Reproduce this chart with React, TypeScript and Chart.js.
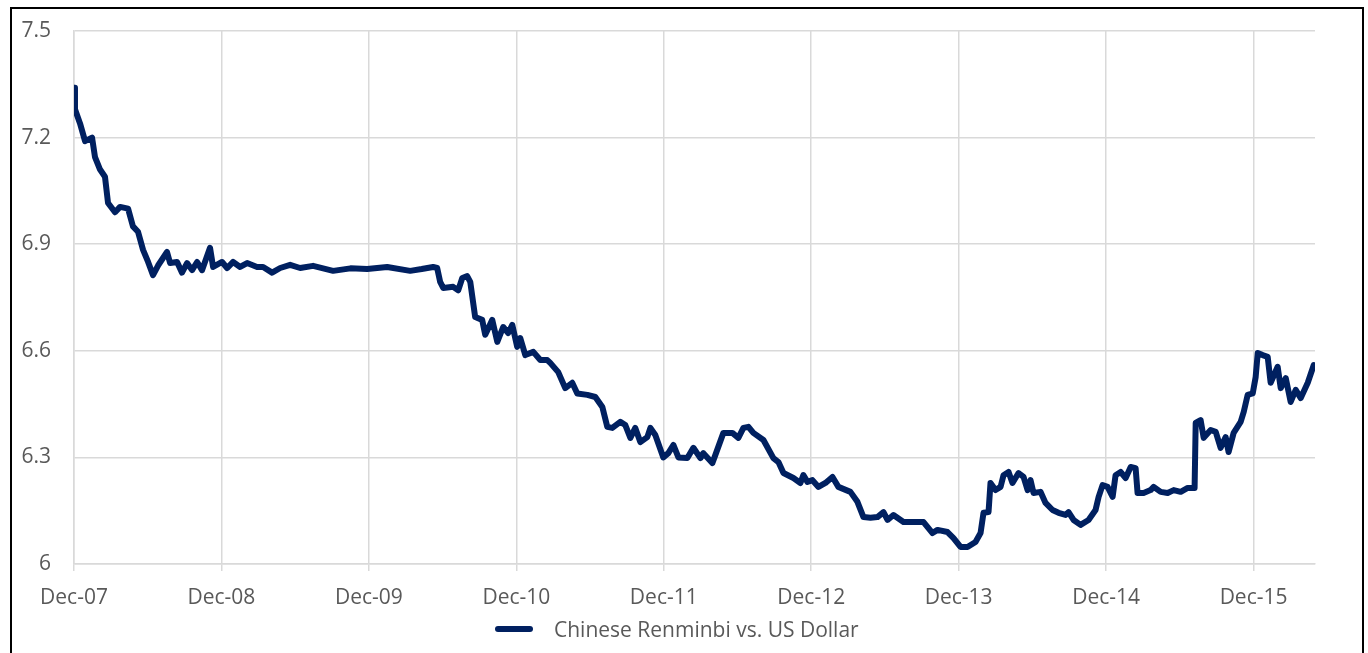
import React, { useEffect, useRef } from "react";
import { Chart, registerables } from "chart.js";

Chart.register(...registerables);

// Months elapsed since Dec-2007
const months: number[] = [
  0, 0.08, 0.49, 0.9, 1.47, 1.71, 2.12, 2.52, 2.77, 3.34, 3.75, 4.4, 4.8, 5.21, 5.62, 6.03, 6.43, 6.84,
  7.57, 7.82, 8.39, 8.79, 9.2, 9.61, 10.02, 10.42, 11.07, 11.32, 12.05, 12.46, 12.95, 13.52, 14.09,
  14.9, 15.39, 16.12, 16.78, 17.59, 18.4, 19.46, 21.09, 22.5, 23.86, 25.49, 27.36, 28.3, 29.23, 29.56,
  29.8, 30.05, 30.86, 31.27, 31.6, 32.0, 32.25, 32.65, 33.22, 33.47, 34.04, 34.45, 34.93, 35.34, 35.67,
  36.07, 36.32, 36.73, 37.38, 37.95, 38.52, 38.76, 39.41, 39.98, 40.55, 40.96, 41.78, 42.43, 43.0,
  43.4, 43.81, 44.46, 44.87, 45.28, 45.68, 46.09, 46.66, 46.91, 47.31, 47.96, 48.37, 48.78, 49.19,
  49.92, 50.41, 50.98, 51.22, 51.95, 52.2, 52.85, 53.58, 54.07, 54.48, 54.89, 55.29, 56.11, 56.92,
  57.33, 57.74, 58.55, 59.12, 59.36, 59.69, 60.1, 60.59, 61.16, 61.73, 62.21, 63.19, 63.76, 64.25,
  64.82, 65.39, 65.88, 66.21, 66.69, 67.51, 68.32, 69.14, 69.87, 70.28, 71.09, 71.58, 72.15, 72.72,
  73.37, 73.78, 74.02, 74.43, 74.59, 75.0, 75.41, 75.65, 76.06, 76.38, 76.87, 77.28, 77.61, 77.85,
  78.09, 78.66, 79.07, 79.64, 80.13, 80.7, 80.94, 81.35, 81.92, 82.57, 83.14, 83.39, 83.71, 84.12,
  84.53, 84.77, 85.18, 85.59, 86.0, 86.4, 86.56, 87.05, 87.62, 87.87, 88.44, 89.01, 89.5, 90.07,
  90.64, 91.2, 91.29, 91.69, 91.94, 92.51, 92.92, 93.32, 93.73, 93.97, 94.38, 94.95, 95.2, 95.52,
  95.93, 96.17, 96.34, 96.74, 97.15, 97.39, 97.96, 98.21, 98.62, 99.02, 99.43, 99.84, 100.41, 100.9,
];

// CNY per USD
const rates: number[] = [
  7.34, 7.28, 7.24, 7.19, 7.2, 7.145, 7.11, 7.09, 7.016, 6.99, 7.005, 7.0, 6.95, 6.935, 6.884, 6.85, 6.813, 6.84,
  6.878, 6.847, 6.85, 6.82, 6.847, 6.827, 6.85, 6.827, 6.89, 6.836, 6.85, 6.833, 6.85, 6.836, 6.847,
  6.836, 6.836, 6.82, 6.833, 6.842, 6.833, 6.839, 6.825, 6.832, 6.83, 6.836, 6.825, 6.83, 6.836, 6.833,
  6.794, 6.777, 6.78, 6.77, 6.805, 6.81, 6.794, 6.695, 6.687, 6.645, 6.687, 6.625, 6.667, 6.65, 6.673,
  6.611, 6.636, 6.588, 6.597, 6.574, 6.574, 6.566, 6.54, 6.495, 6.51, 6.48, 6.476, 6.47, 6.442,
  6.386, 6.383, 6.4, 6.391, 6.355, 6.383, 6.343, 6.357, 6.383, 6.363, 6.3, 6.312, 6.335, 6.3,
  6.298, 6.327, 6.298, 6.312, 6.284, 6.307, 6.369, 6.369, 6.355, 6.383, 6.386, 6.369, 6.349, 6.298,
  6.287, 6.256, 6.242, 6.228, 6.25, 6.231, 6.236, 6.217, 6.228, 6.245, 6.217, 6.203, 6.175, 6.132,
  6.13, 6.132, 6.146, 6.124, 6.138, 6.118, 6.118, 6.118, 6.087, 6.096, 6.09, 6.073, 6.048, 6.048,
  6.062, 6.087, 6.144, 6.146, 6.228, 6.208, 6.217, 6.25, 6.259, 6.228, 6.256, 6.245, 6.208, 6.236,
  6.2, 6.203, 6.172, 6.152, 6.144, 6.138, 6.146, 6.124, 6.11, 6.124, 6.152, 6.189, 6.222, 6.217,
  6.189, 6.25, 6.259, 6.242, 6.273, 6.27, 6.2, 6.2, 6.208, 6.217, 6.203, 6.2, 6.208, 6.203,
  6.214, 6.214, 6.397, 6.405, 6.355, 6.377, 6.372, 6.327, 6.357, 6.315, 6.369, 6.4, 6.428, 6.476,
  6.48, 6.526, 6.594, 6.588, 6.583, 6.51, 6.555, 6.495, 6.523, 6.456, 6.49, 6.467, 6.51, 6.56,
];

const xTickMonths: number[] = [0, 12, 24, 36, 48, 60, 72, 84, 96];
const xTickLabels: string[] = ["Dec-07", "Dec-08", "Dec-09", "Dec-10", "Dec-11", "Dec-12", "Dec-13", "Dec-14", "Dec-15"];
const yTickValues: number[] = [6, 6.3, 6.6, 6.9, 7.2, 7.5];
const yTickLabels: string[] = ["6", "6.3", "6.6", "6.9", "7.2", "7.5"];
const seriesLabel = "Chinese Renminbi vs. US Dollar";

const LINE = "#002060";
const GRID = "#d9d9d9";
const TEXT = "#595959";
const FONT = "'Open Sans', sans-serif";

export default function App() {
  const ref = useRef<HTMLCanvasElement | null>(null);

  useEffect(() => {
    if (!ref.current) return;
    const chart = new Chart(ref.current, {
      type: "line",
      data: {
        datasets: [
          {
            label: seriesLabel,
            data: months.map((m, i) => ({ x: m, y: rates[i] })),
            borderColor: LINE,
            backgroundColor: LINE,
            borderWidth: 6,
            pointRadius: 0,
            tension: 0,
            borderJoinStyle: "round",
            borderCapStyle: "round",
          },
        ],
      },
      options: {
        responsive: false,
        animation: false,
        layout: { padding: { left: 0, right: 53, top: 31, bottom: 0 } },
        plugins: { legend: { display: false }, tooltip: { enabled: false } },
        scales: {
          x: {
            type: "linear",
            min: 0,
            max: 101,
            afterFit: (s: any) => {
              s.height = 56;
              s.paddingLeft = 0;
              s.paddingRight = 0;
              s.paddingTop = 0;
              s.paddingBottom = 0;
            },
            afterBuildTicks: (s: any) => {
              s.ticks = xTickMonths.map((v) => ({ value: v }));
            },
            grid: { color: GRID, lineWidth: 1.5, tickLength: 7, drawTicks: true },
            border: { color: GRID, width: 1.5 },
            ticks: {
              autoSkip: false,
              maxRotation: 0,
              padding: 14,
              color: TEXT,
              font: { family: FONT, size: 21 },
              callback: (v: any) => {
                const i = xTickMonths.indexOf(Number(v));
                return i >= 0 ? xTickLabels[i] : "";
              },
            },
          },
          y: {
            min: 6,
            max: 7.5,
            afterFit: (s: any) => {
              s.width = 74;
              s.paddingLeft = 0;
              s.paddingRight = 0;
              s.paddingTop = 0;
              s.paddingBottom = 0;
            },
            afterBuildTicks: (s: any) => {
              s.ticks = yTickValues.map((v) => ({ value: v }));
            },
            grid: { color: GRID, lineWidth: 1.5, drawTicks: false },
            border: { color: GRID, width: 1.5 },
            ticks: {
              padding: 23,
              color: TEXT,
              font: { family: FONT, size: 21 },
              callback: (v: any) => {
                const i = yTickValues.findIndex((t) => Math.abs(t - Number(v)) < 1e-6);
                return i >= 0 ? yTickLabels[i] : "";
              },
            },
          },
        },
      },
    });
    return () => chart.destroy();
  }, []);

  return (
    <div style={{ position: "absolute", left: 0, top: 0, width: 1368, height: 653, overflow: "hidden", background: "#fff" }}>
      <div
        style={{
          position: "absolute",
          left: 10,
          top: 7,
          width: 1354,
          height: 700,
          border: "2px solid #000",
          boxSizing: "border-box",
        }}
      />
      <canvas ref={ref} width={1368} height={620} style={{ position: "absolute", left: 0, top: 0 }} />
      <div
        style={{
          position: "absolute",
          left: 495,
          top: 616,
          display: "flex",
          alignItems: "center",
          fontFamily: FONT,
          fontSize: 21,
          color: TEXT,
          whiteSpace: "nowrap",
          lineHeight: "26px",
        }}
      >
        <span style={{ display: "inline-block", width: 38, height: 6, borderRadius: 3, background: LINE, marginRight: 21 }} />
        <span>{seriesLabel}</span>
      </div>
    </div>
  );
}
